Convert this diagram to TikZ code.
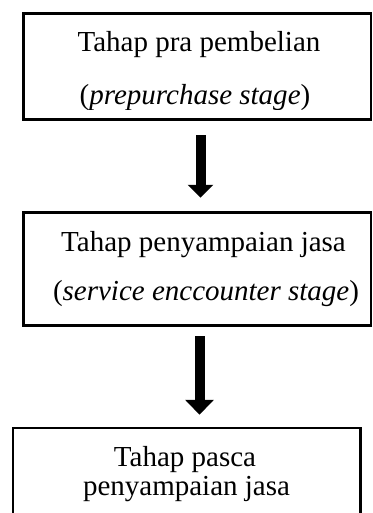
\documentclass[tikz,border=0pt]{standalone}
\usepackage{fontspec}
\setmainfont{Liberation Serif}
\usetikzlibrary{arrows.meta}
\begin{document}
\begin{tikzpicture}[x=1pt,y=-1pt,
  stagebox/.style={draw=black, line width=2.5pt, rectangle, inner sep=0pt, minimum width=347.5pt},
  lbl/.style={anchor=base, inner sep=0pt, font=\fontsize{29}{34}\selectfont},
  bigarrow/.style={draw=black, line width=10pt}]
\clip (0,0) rectangle (372,513);
% boxes
\node[stagebox, minimum height=106pt] (b1) at (197.25,66.5) {};
\node[stagebox, minimum height=113pt] (b2) at (197.25,269) {};
\node[stagebox, minimum height=120pt] (b3) at (186.75,488) {};
% texts
\begin{scope}
\clip (25,15) rectangle (369,110);
\node[lbl] (t1a) at (199,52) {Tahap pra pembelian};
\node[lbl] (t1b) at (195,105) {(\textit{prepurchase stage})};
\end{scope}
\node[lbl] (t2a) at (203.5,251.5) {Tahap penyampaian jasa};
\node[lbl] (t2b) at (206,300) {(\textit{service enccounter stage})};
\node[lbl] (t3a) at (185,466) {Tahap pasca};
\node[lbl] (t3b) at (186.5,495) {penyampaian jasa};
% arrows
\draw[bigarrow, -{Triangle[width=25pt,length=13pt]}, shorten <=14.5pt, shorten >=13.5pt]
  ([xshift=3.25pt]b1.south) -- ([xshift=3.25pt]b2.north);
\draw[bigarrow, -{Triangle[width=28pt,length=15pt]}, shorten <=9.5pt, shorten >=12pt]
  ([xshift=2.25pt]b2.south) -- ([xshift=12.75pt]b3.north);
\end{tikzpicture}
\end{document}
